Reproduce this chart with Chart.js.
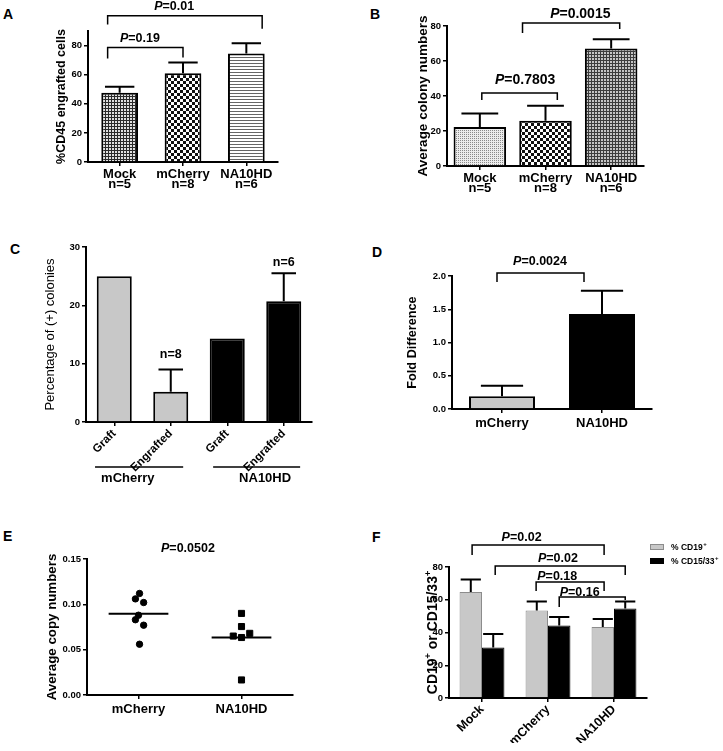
<!DOCTYPE html>
<html>
<head>
<meta charset="utf-8">
<script src="https://cdn.jsdelivr.net/npm/chart.js@4.4.1/dist/chart.umd.min.js"></script>
<style>
  body { margin: 0; background: #fff; }
  #fig { position: relative; width: 723px; height: 751px; overflow: hidden; }
  #fig canvas { position: absolute; }
  .tag { position: absolute; font: bold 14px 'Liberation Sans', Arial, sans-serif; color: #000; }
</style>
</head>
<body>
<div id="fig">
  <div class="tag" style="left:3px;top:6px">A</div>
  <div class="tag" style="left:370px;top:6px">B</div>
  <div class="tag" style="left:10px;top:241px">C</div>
  <div class="tag" style="left:372px;top:244px">D</div>
  <div class="tag" style="left:3px;top:528px">E</div>
  <div class="tag" style="left:372px;top:529px">F</div>
  <canvas id="cA" width="360" height="200" style="left:0;top:0"></canvas>
  <canvas id="cB" width="363" height="200" style="left:360px;top:0"></canvas>
  <canvas id="cC" width="360" height="265" style="left:0;top:225px"></canvas>
  <canvas id="cD" width="363" height="230" style="left:360px;top:230px"></canvas>
  <canvas id="cE" width="360" height="251" style="left:0;top:500px"></canvas>
  <canvas id="cF" width="363" height="251" style="left:360px;top:500px"></canvas>
</div>
<script>
/* ── data ── */

// A: %CD45 engrafted cells
const A_LABELS = [['Mock', 'n=5'], ['mCherry', 'n=8'], ['NA10HD', 'n=6']];
const A_MEAN   = [47.5, 61, 74.5];
const A_SEM    = [4.2, 7.3, 7];

// B: average colony numbers
const B_LABELS = [['Mock', 'n=5'], ['mCherry', 'n=8'], ['NA10HD', 'n=6']];
const B_MEAN   = [22.3, 25.8, 67.2];
const B_SEM    = [7.7, 8.6, 5.2];

// C: percentage of (+) colonies
const C_LABELS = ['Graft', 'Engrafted', 'Graft', 'Engrafted'];
const C_GROUPS = ['mCherry', 'NA10HD'];
const C_VALUES = [25, 5.2, 14.3, 20.7];
const C_SEM    = [null, 3.8, null, 4.8];

// D: fold difference
const D_LABELS = ['mCherry', 'NA10HD'];
const D_MEAN   = [0.19, 1.43];
const D_SEM    = [0.16, 0.35];

// E: average copy numbers (x = group position with jitter)
const E_LABELS = ['mCherry', 'NA10HD'];
const E_MCH = [
  { x: 1.01, y: 0.112 }, { x: 0.97, y: 0.106 }, { x: 1.05, y: 0.102 },
  { x: 1.00, y: 0.088 }, { x: 0.97, y: 0.083 }, { x: 1.05, y: 0.077 },
  { x: 1.01, y: 0.056 }
];
const E_NA = [
  { x: 2.00, y: 0.090 }, { x: 2.00, y: 0.0755 }, { x: 1.92, y: 0.065 },
  { x: 2.08, y: 0.068 }, { x: 2.00, y: 0.0634 }, { x: 2.00, y: 0.0166 }
];
const E_MEANS = [0.0896, 0.0634];

// F: CD19+ / CD15/33+
const F_LABELS   = ['Mock', 'mCherry', 'NA10HD'];
const F_CD19     = [64.7, 53.5, 43.4];
const F_CD19_SEM = [7.6, 5.5, 4.8];
const F_CD15     = [30.9, 44.2, 54.6];
const F_CD15_SEM = [8.2, 5.3, 4.4];

/* ── annotations (p-value brackets, n labels) in data units ── */
const A_P = [
  { p: '0.19', x1: -0.19, x2: 1.0, y: 78.6, y1: 71.1, y2: 71.8, lx: 0.32, ly: 84.8 },
  { p: '0.01', x1: -0.19, x2: 2.25, y: 100.5, y1: 94.4, y2: 91.6, lx: 0.86, ly: 106.7 }
];
const B_P = [
  { p: '0.7803', x1: 0.03, x2: 1.18, y: 41.7, y1: 37.7, y2: 37.7, lx: 0.69, ly: 49.1 },
  { p: '0.0015', x1: 0.65, x2: 2.13, y: 81.7, y1: 76, y2: 78.3, lx: 1.53, ly: 86.9 }
];
const C_N = [
  { t: 'n=8', lx: 1, ly: 11.5 },
  { t: 'n=6', lx: 3, ly: 27.4 }
];
const D_P = [
  { p: '0.0024', x1: -0.05, x2: 0.82, y: 2.045, y1: 1.91, y2: 1.91, lx: 0.38, ly: 2.21 }
];
const E_P = [{ p: '0.0502', lx: 1.48, ly: 0.161 }];
const F_P = [
  { p: '0.02', x1: -0.15, x2: 1.85, y: 93.4, y1: 87.3, y2: 87.3, lx: 0.6, ly: 97.7 },
  { p: '0.02', x1: 0.2, x2: 2.17, y: 80.6, y1: 75.1, y2: 75.1, lx: 1.15, ly: 84.9 },
  { p: '0.18', x1: 0.82, x2: 1.85, y: 70.8, y1: 65.3, y2: 65.3, lx: 1.14, ly: 73.9 },
  { p: '0.16', x1: 1.17, x2: 2.17, y: 61.7, y1: 55.6, y2: 59.8, lx: 1.48, ly: 64.1 }
];

/* ── shared style ── */
const FONT  = "'Liberation Sans', Arial, Helvetica, sans-serif";
const BLACK = '#000';
const GRAY  = '#c8c8c8';
const Y_W   = 30;   // fixed width of every y axis box

Chart.defaults.font.family = FONT;
Chart.defaults.color = BLACK;
Chart.defaults.animation = false;
Chart.defaults.plugins.legend.display = false;
Chart.defaults.plugins.tooltip.enabled = false;

// put the plot rectangle where the figure has it
function frame(box, plot, xH) {
  return {
    autoPadding: false,
    padding: { left: plot.l - box.x - Y_W, top: plot.t - box.y, right: box.x + box.w - plot.r, bottom: box.y + box.h - plot.b - xH }
  };
}

function yScale(o) {
  return {
    min: o.min, max: o.max,
    border: { color: BLACK, width: 2 },
    grid: { drawOnChartArea: false, color: BLACK, lineWidth: 1.5, tickLength: 4 },
    ticks: { stepSize: o.step, padding: 2, font: { size: 9.5, weight: 'bold' }, callback: o.fmt || (v => v) },
    afterBuildTicks: s => {
      s.ticks = s.ticks.filter(t => Math.abs(t.value / o.step - Math.round(t.value / o.step)) < 1e-6);
    },
    afterFit: s => { s.width = Y_W; }
  };
}

function xScale(o) {
  return {
    border: { color: BLACK, width: 2 },
    grid: { offset: false, drawOnChartArea: false, color: BLACK, lineWidth: 1.5, tickLength: 4 },
    ticks: {
      autoSkip: false, padding: o.pad ?? 2,
      maxRotation: o.rot || 0, minRotation: o.rot || 0,
      font: { size: o.size || 13, weight: o.weight || 'bold', lineHeight: o.lh || 1.2 }
    },
    afterFit: s => { s.height = o.height; }
  };
}

function pattern(id, w, h, draw) {
  const tile = document.createElement('canvas');
  tile.width = w; tile.height = h;
  draw(tile.getContext('2d'));
  return document.getElementById(id).getContext('2d').createPattern(tile, 'repeat');
}

function drawP(ctx, txt, cx, cy, size) {
  ctx.font = `italic bold ${size}px ${FONT}`;
  const wP = ctx.measureText('P').width;
  ctx.font = `bold ${size}px ${FONT}`;
  const wR = ctx.measureText('=' + txt).width;
  const x0 = cx - (wP + wR) / 2;
  ctx.textAlign = 'left';
  ctx.textBaseline = 'middle';
  ctx.fillStyle = BLACK;
  ctx.fillText('=' + txt, x0 + wP, cy);
  ctx.font = `italic bold ${size}px ${FONT}`;
  ctx.fillText('P', x0, cy);
}

/* ── plugins ── */
const errorBars = {
  id: 'errorBars',
  afterDatasetsDraw(chart) {
    const { ctx } = chart;
    const y = chart.scales.y;
    chart.data.datasets.forEach((ds, i) => {
      if (!ds.errors) return;
      chart.getDatasetMeta(i).data.forEach((bar, j) => {
        const e = ds.errors[j];
        if (e == null) return;
        const top = y.getPixelForValue(ds.data[j] + e);
        const cap = bar.width * (ds.capRatio || 0.3);
        ctx.save();
        ctx.strokeStyle = BLACK;
        ctx.lineWidth = 2;
        ctx.beginPath();
        ctx.moveTo(bar.x, bar.y);
        ctx.lineTo(bar.x, top);
        ctx.moveTo(bar.x - cap, top);
        ctx.lineTo(bar.x + cap, top);
        ctx.stroke();
        ctx.restore();
      });
    });
  }
};

function notes(items, size) {
  return {
    id: 'notes',
    afterDraw(chart) {
      const { ctx } = chart;
      const x = chart.scales.x, y = chart.scales.y;
      ctx.save();
      items.forEach(b => {
        if (b.x1 != null) {
          const x1 = x.getPixelForValue(b.x1), x2 = x.getPixelForValue(b.x2);
          const yy = y.getPixelForValue(b.y);
          ctx.strokeStyle = BLACK;
          ctx.lineWidth = 1.5;
          ctx.beginPath();
          ctx.moveTo(x1, y.getPixelForValue(b.y1));
          ctx.lineTo(x1, yy);
          ctx.lineTo(x2, yy);
          ctx.lineTo(x2, y.getPixelForValue(b.y2));
          ctx.stroke();
        }
        const lx = x.getPixelForValue(b.lx), ly = y.getPixelForValue(b.ly);
        if (b.p) {
          drawP(ctx, b.p, lx, ly, size);
        } else {
          ctx.font = `bold ${size}px ${FONT}`;
          ctx.textAlign = 'center';
          ctx.textBaseline = 'middle';
          ctx.fillStyle = BLACK;
          ctx.fillText(b.t, lx, ly);
        }
      });
      ctx.restore();
    }
  };
}

// rotated y title at canvas x `cx`; parts = [text, isSuperscript]
function yTitle(parts, size, weight, cx) {
  return {
    id: 'yTitle',
    afterDraw(chart) {
      const { ctx, chartArea } = chart;
      const main = `${weight} ${size}px ${FONT}`;
      const sup = `${weight} ${Math.round(size * 0.65)}px ${FONT}`;
      ctx.save();
      ctx.translate(cx, (chartArea.top + chartArea.bottom) / 2);
      ctx.rotate(-Math.PI / 2);
      ctx.fillStyle = BLACK;
      ctx.textAlign = 'left';
      ctx.textBaseline = 'middle';
      let total = 0;
      parts.forEach(([t, s]) => { ctx.font = s ? sup : main; total += ctx.measureText(t).width; });
      let px = -total / 2;
      parts.forEach(([t, s]) => {
        ctx.font = s ? sup : main;
        ctx.fillText(t, px, s ? -size * 0.35 : 0);
        px += ctx.measureText(t).width;
      });
      ctx.restore();
    }
  };
}

/* ── A ── */
(function () {
  const mesh = pattern('cA', 3, 3, g => {
    g.fillStyle = '#e0e0e0'; g.fillRect(0, 0, 3, 3);
    g.fillStyle = '#2a2a2a'; g.fillRect(0, 0, 3, 1); g.fillRect(0, 0, 1, 3);
  });
  const checks = pattern('cA', 6, 6, g => {
    g.fillStyle = '#fff'; g.fillRect(0, 0, 6, 6);
    g.fillStyle = '#111'; g.fillRect(0, 0, 3, 3); g.fillRect(3, 3, 3, 3);
  });
  const stripes = pattern('cA', 4, 3, g => {
    g.fillStyle = '#fff'; g.fillRect(0, 0, 4, 3);
    g.fillStyle = '#666'; g.fillRect(0, 0, 4, 1);
  });
  new Chart(document.getElementById('cA'), {
    type: 'bar',
    data: {
      labels: A_LABELS,
      datasets: [{
        data: A_MEAN, errors: A_SEM, capRatio: 0.4,
        backgroundColor: [mesh, checks, stripes],
        borderColor: BLACK, borderWidth: 2,
        categoryPercentage: 1, barPercentage: 0.58
      }]
    },
    options: {
      responsive: false,
      layout: frame({ x: 0, y: 0, w: 360, h: 200 }, { l: 88, t: 31, r: 278, b: 162 }, 30),
      scales: {
        x: xScale({ height: 30, size: 13, lh: 0.8, pad: 3 }),
        y: yScale({ min: 0, max: 90, step: 20 })
      }
    },
    plugins: [errorBars, notes(A_P, 12.5), yTitle([['%CD45 engrafted cells']], 12.5, 'bold', 62)]
  });
})();

/* ── B ── */
(function () {
  const dots = pattern('cB', 2, 2, g => {
    g.fillStyle = '#ececec'; g.fillRect(0, 0, 2, 2);
    g.fillStyle = '#8a8a8a'; g.fillRect(0, 0, 1, 1);
  });
  const checks = pattern('cB', 6, 6, g => {
    g.fillStyle = '#fff'; g.fillRect(0, 0, 6, 6);
    g.fillStyle = '#111'; g.fillRect(0, 0, 3, 3); g.fillRect(3, 3, 3, 3);
  });
  const mesh = pattern('cB', 3, 3, g => {
    g.fillStyle = '#c4c4c4'; g.fillRect(0, 0, 3, 3);
    g.fillStyle = '#3c3c3c'; g.fillRect(0, 0, 3, 1); g.fillRect(0, 0, 1, 3);
  });
  new Chart(document.getElementById('cB'), {
    type: 'bar',
    data: {
      labels: B_LABELS,
      datasets: [{
        data: B_MEAN, errors: B_SEM, capRatio: 0.35,
        backgroundColor: [dots, checks, mesh],
        borderColor: BLACK, borderWidth: 2,
        categoryPercentage: 1, barPercentage: 0.8
      }]
    },
    options: {
      responsive: false,
      layout: frame({ x: 360, y: 0, w: 363, h: 200 }, { l: 447, t: 26, r: 644, b: 166 }, 30),
      scales: {
        x: xScale({ height: 30, size: 13, lh: 0.8, pad: 3 }),
        y: yScale({ min: 0, max: 80, step: 20 })
      }
    },
    plugins: [errorBars, notes(B_P, 14), yTitle([['Average colony numbers']], 13.5, 'bold', 63)]
  });
})();

/* ── C ── */
(function () {
  const groupSpans = [[-0.34, 1.22, 0.24], [1.75, 3.29, 2.67]];
  const groups = {
    id: 'groups',
    afterDraw(chart) {
      const { ctx, chartArea } = chart;
      const x = chart.scales.x;
      ctx.save();
      ctx.strokeStyle = BLACK;
      ctx.lineWidth = 1.5;
      ctx.fillStyle = BLACK;
      ctx.font = `bold 13px ${FONT}`;
      ctx.textAlign = 'center';
      ctx.textBaseline = 'middle';
      C_GROUPS.forEach((g, i) => {
        const [a, b, c] = groupSpans[i];
        ctx.beginPath();
        ctx.moveTo(x.getPixelForValue(a), chartArea.bottom + 45);
        ctx.lineTo(x.getPixelForValue(b), chartArea.bottom + 45);
        ctx.stroke();
        ctx.fillText(g, x.getPixelForValue(c), chartArea.bottom + 56);
      });
      ctx.restore();
    }
  };
  new Chart(document.getElementById('cC'), {
    type: 'bar',
    data: {
      labels: C_LABELS,
      datasets: [{
        data: C_VALUES, errors: C_SEM, capRatio: 0.35,
        backgroundColor: [GRAY, GRAY, BLACK, BLACK],
        borderColor: BLACK, borderWidth: 2,
        categoryPercentage: 1, barPercentage: 0.62
      }]
    },
    options: {
      responsive: false,
      layout: frame({ x: 0, y: 225, w: 360, h: 265 }, { l: 86, t: 247, r: 312, b: 422 }, 50),
      scales: {
        x: xScale({ height: 50, size: 11.5, rot: 45, pad: 1 }),
        y: yScale({ min: 0, max: 30, step: 10 })
      }
    },
    plugins: [errorBars, notes(C_N, 12.5), groups, yTitle([['Percentage of (+) colonies']], 13, 'normal', 50)]
  });
})();

/* ── D ── */
(function () {
  new Chart(document.getElementById('cD'), {
    type: 'bar',
    data: {
      labels: D_LABELS,
      datasets: [{
        data: D_MEAN, errors: D_SEM, capRatio: 0.32,
        backgroundColor: [GRAY, BLACK],
        borderColor: BLACK, borderWidth: 2,
        categoryPercentage: 1, barPercentage: 0.66
      }]
    },
    options: {
      responsive: false,
      layout: frame({ x: 360, y: 230, w: 363, h: 230 }, { l: 452, t: 276, r: 652, b: 409 }, 25),
      scales: {
        x: xScale({ height: 25, size: 13, pad: 3 }),
        y: yScale({ min: 0, max: 2, step: 0.5, fmt: v => v.toFixed(1) })
      }
    },
    plugins: [errorBars, notes(D_P, 12.5), yTitle([['Fold Difference']], 12.7, 'bold', 52)]
  });
})();

/* ── E ── */
(function () {
  const half = 0.29;
  const meanLine = (m, i) => ({
    type: 'line', data: [{ x: i + 1 - half, y: m }, { x: i + 1 + half, y: m }],
    borderColor: BLACK, borderWidth: 1.8, pointRadius: 0, showLine: true
  });
  const xs = xScale({ height: 25, size: 13, pad: 3 });
  xs.type = 'linear';
  xs.min = 0.5;
  xs.max = 2.5;
  xs.afterBuildTicks = s => { s.ticks = E_LABELS.map((_, i) => ({ value: i + 1 })); };
  xs.ticks.callback = v => E_LABELS[v - 1];
  new Chart(document.getElementById('cE'), {
    type: 'scatter',
    data: {
      datasets: [
        { data: E_MCH, pointStyle: 'circle', pointRadius: 3.2, backgroundColor: BLACK, borderColor: BLACK },
        { data: E_NA, pointStyle: 'rect', pointRadius: 4.3, backgroundColor: BLACK, borderColor: BLACK },
        ...E_MEANS.map(meanLine)
      ]
    },
    options: {
      responsive: false,
      layout: frame({ x: 0, y: 500, w: 360, h: 251 }, { l: 87, t: 559, r: 293, b: 695 }, 25),
      scales: {
        x: xs,
        y: yScale({ min: 0, max: 0.15, step: 0.05, fmt: v => v.toFixed(2) })
      }
    },
    plugins: [notes(E_P, 12.5), yTitle([['Average copy numbers']], 13.3, 'bold', 52)]
  });
})();

/* ── F ── */
(function () {
  const legend = {
    id: 'sideLegend',
    afterDraw(chart) {
      const { ctx } = chart;
      ctx.save();
      chart.data.datasets.forEach((ds, i) => {
        const bx = 290, by = 44 + i * 14;
        ctx.fillStyle = ds.backgroundColor;
        ctx.fillRect(bx, by, 14, 6);
        ctx.strokeStyle = ds.borderColor;
        ctx.lineWidth = 1;
        ctx.strokeRect(bx + 0.5, by + 0.5, 13, 5);
        ctx.fillStyle = BLACK;
        ctx.textBaseline = 'middle';
        ctx.textAlign = 'left';
        ctx.font = `bold 8.5px ${FONT}`;
        ctx.fillText(ds.label, bx + 21, by + 3.5);
        const w = ctx.measureText(ds.label).width;
        ctx.font = `bold 6px ${FONT}`;
        ctx.fillText('+', bx + 21 + w + 0.5, by);
      });
      ctx.restore();
    }
  };
  new Chart(document.getElementById('cF'), {
    type: 'bar',
    data: {
      labels: F_LABELS,
      datasets: [
        { label: '% CD19', data: F_CD19, errors: F_CD19_SEM, capRatio: 0.45, backgroundColor: GRAY, borderColor: '#8c8c8c', borderWidth: 1, categoryPercentage: 0.68, barPercentage: 1 },
        { label: '% CD15/33', data: F_CD15, errors: F_CD15_SEM, capRatio: 0.45, backgroundColor: BLACK, borderColor: BLACK, borderWidth: 1, categoryPercentage: 0.68, barPercentage: 1 }
      ]
    },
    options: {
      responsive: false,
      layout: frame({ x: 360, y: 500, w: 363, h: 251 }, { l: 449, t: 567, r: 647, b: 698 }, 45),
      scales: {
        x: xScale({ height: 45, size: 12.5, rot: 45, pad: 0 }),
        y: yScale({ min: 0, max: 80, step: 20 })
      }
    },
    plugins: [errorBars, notes(F_P, 12.5), legend,
      yTitle([['CD19'], ['+', true], [' or CD15/33'], ['+', true]], 14, 'bold', 73)]
  });
})();
</script>
</body>
</html>
